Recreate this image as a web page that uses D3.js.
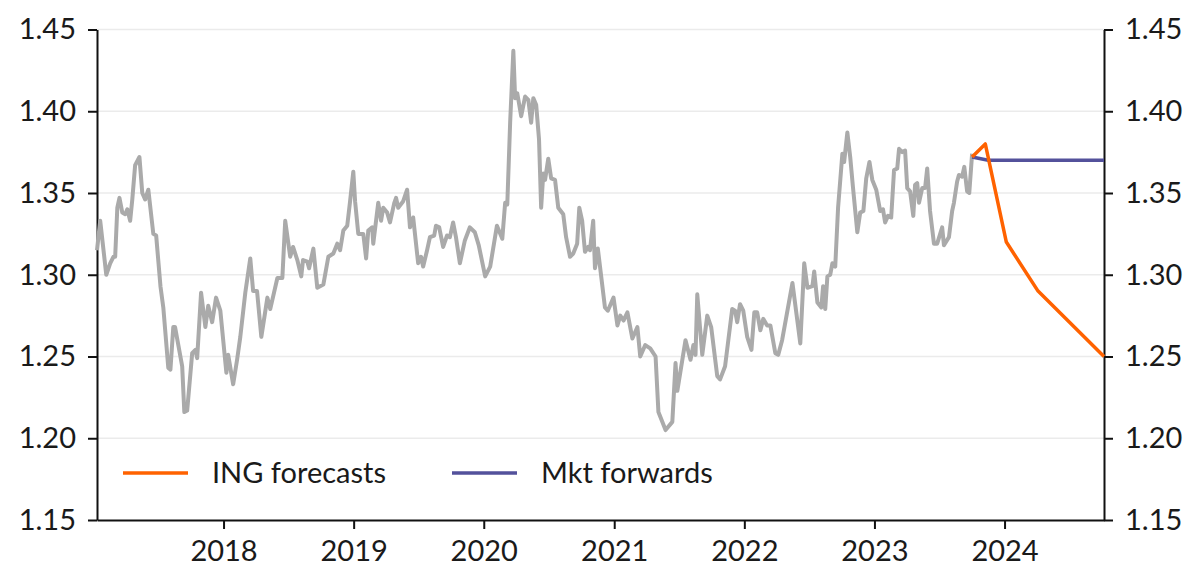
<!DOCTYPE html>
<html>
<head>
<meta charset="utf-8">
<script src="https://cdn.jsdelivr.net/npm/d3@7"></script>
<style>
    body { margin: 0; background: #fff; }
    text { font-family: Lato, "Open Sans", sans-serif; fill: #1a1a1a; }
</style>
</head>
<body>
<svg id="chart" width="1200" height="588" viewBox="0 0 1200 588"></svg>
<script>
// USD/CAD spot (weekly-ish readings)
const spot = [
    ["2017-01-11", 1.315], ["2017-01-20", 1.333], ["2017-02-06", 1.300], ["2017-02-17", 1.307],
    ["2017-02-26", 1.311], ["2017-03-03", 1.311], ["2017-03-09", 1.341], ["2017-03-15", 1.347],
    ["2017-03-23", 1.338], ["2017-03-31", 1.337], ["2017-04-06", 1.340], ["2017-04-14", 1.333],
    ["2017-04-20", 1.346], ["2017-04-28", 1.367], ["2017-05-10", 1.372], ["2017-05-18", 1.350],
    ["2017-05-26", 1.346], ["2017-06-04", 1.352], ["2017-06-18", 1.325], ["2017-06-26", 1.324],
    ["2017-07-08", 1.293], ["2017-07-16", 1.280], ["2017-07-30", 1.243], ["2017-08-05", 1.242],
    ["2017-08-13", 1.268], ["2017-08-18", 1.268], ["2017-09-07", 1.244], ["2017-09-13", 1.216],
    ["2017-09-21", 1.217], ["2017-10-05", 1.252], ["2017-10-14", 1.254], ["2017-10-19", 1.249],
    ["2017-10-30", 1.289], ["2017-11-11", 1.268], ["2017-11-19", 1.281], ["2017-11-30", 1.271],
    ["2017-12-11", 1.286], ["2017-12-23", 1.278],
    ["2018-01-09", 1.240], ["2018-01-14", 1.251], ["2018-01-28", 1.233], ["2018-02-08", 1.248],
    ["2018-02-17", 1.262], ["2018-03-03", 1.289], ["2018-03-17", 1.310], ["2018-03-25", 1.290],
    ["2018-04-05", 1.290], ["2018-04-17", 1.262], ["2018-05-04", 1.286], ["2018-05-12", 1.279],
    ["2018-06-01", 1.298], ["2018-06-15", 1.298], ["2018-06-23", 1.333], ["2018-07-07", 1.311],
    ["2018-07-15", 1.317], ["2018-07-27", 1.309], ["2018-08-07", 1.299], ["2018-08-12", 1.309],
    ["2018-08-24", 1.308], ["2018-08-29", 1.304], ["2018-09-10", 1.316], ["2018-09-21", 1.292],
    ["2018-10-08", 1.294], ["2018-10-22", 1.311], ["2018-11-05", 1.313], ["2018-11-16", 1.319],
    ["2018-11-24", 1.315], ["2018-12-03", 1.327], ["2018-12-14", 1.330], ["2018-12-22", 1.345],
    ["2018-12-31", 1.363],
    ["2019-01-05", 1.345], ["2019-01-14", 1.325], ["2019-01-28", 1.325], ["2019-02-05", 1.310],
    ["2019-02-11", 1.327], ["2019-02-22", 1.329], ["2019-02-25", 1.319], ["2019-03-11", 1.344],
    ["2019-03-19", 1.333], ["2019-03-25", 1.341], ["2019-04-05", 1.338], ["2019-04-13", 1.332],
    ["2019-04-25", 1.344], ["2019-04-30", 1.347], ["2019-05-06", 1.341], ["2019-05-20", 1.345],
    ["2019-05-31", 1.352], ["2019-06-08", 1.329], ["2019-06-17", 1.335], ["2019-07-01", 1.307],
    ["2019-07-09", 1.311], ["2019-07-15", 1.305], ["2019-07-26", 1.315], ["2019-08-03", 1.323],
    ["2019-08-15", 1.324], ["2019-08-20", 1.330], ["2019-08-29", 1.329], ["2019-09-09", 1.317],
    ["2019-09-20", 1.324], ["2019-09-28", 1.323], ["2019-10-07", 1.332], ["2019-10-15", 1.323],
    ["2019-10-26", 1.307], ["2019-11-09", 1.321], ["2019-11-23", 1.329], ["2019-12-07", 1.326],
    ["2019-12-18", 1.318],
    ["2020-01-05", 1.299], ["2020-01-19", 1.305], ["2020-02-07", 1.330], ["2020-02-22", 1.322],
    ["2020-03-01", 1.344], ["2020-03-07", 1.343], ["2020-03-15", 1.393], ["2020-03-24", 1.437],
    ["2020-03-29", 1.408], ["2020-04-04", 1.411], ["2020-04-15", 1.397], ["2020-04-26", 1.409],
    ["2020-05-05", 1.407], ["2020-05-13", 1.393], ["2020-05-19", 1.408], ["2020-05-27", 1.404],
    ["2020-06-04", 1.383], ["2020-06-10", 1.341], ["2020-06-16", 1.362], ["2020-06-21", 1.358],
    ["2020-06-30", 1.371], ["2020-07-08", 1.359], ["2020-07-19", 1.358], ["2020-07-28", 1.341],
    ["2020-08-11", 1.337], ["2020-08-19", 1.323], ["2020-08-30", 1.311], ["2020-09-08", 1.313],
    ["2020-09-19", 1.319], ["2020-09-25", 1.341], ["2020-10-03", 1.333], ["2020-10-11", 1.314],
    ["2020-10-20", 1.317], ["2020-10-25", 1.315], ["2020-11-03", 1.333], ["2020-11-08", 1.304],
    ["2020-11-16", 1.316], ["2020-12-06", 1.280], ["2020-12-14", 1.278], ["2020-12-30", 1.286],
    ["2021-01-10", 1.269], ["2021-01-18", 1.275], ["2021-01-27", 1.272], ["2021-02-07", 1.277],
    ["2021-02-21", 1.261], ["2021-03-07", 1.268], ["2021-03-15", 1.250], ["2021-03-29", 1.257],
    ["2021-04-12", 1.255], ["2021-04-27", 1.250], ["2021-05-05", 1.216], ["2021-05-25", 1.205],
    ["2021-06-13", 1.210], ["2021-06-22", 1.246], ["2021-06-27", 1.229], ["2021-07-20", 1.260],
    ["2021-08-03", 1.248], ["2021-08-11", 1.257], ["2021-08-17", 1.251], ["2021-08-22", 1.288],
    ["2021-09-05", 1.251], ["2021-09-19", 1.275], ["2021-09-30", 1.268], ["2021-10-17", 1.238],
    ["2021-10-25", 1.236], ["2021-11-08", 1.244], ["2021-11-28", 1.279], ["2021-12-06", 1.278],
    ["2021-12-12", 1.271], ["2021-12-20", 1.282], ["2021-12-29", 1.278],
    ["2022-01-09", 1.262], ["2022-01-21", 1.254], ["2022-01-29", 1.277], ["2022-02-06", 1.277],
    ["2022-02-15", 1.266], ["2022-02-23", 1.273], ["2022-03-06", 1.269], ["2022-03-15", 1.269],
    ["2022-03-29", 1.252], ["2022-04-06", 1.251], ["2022-04-17", 1.260], ["2022-05-16", 1.295],
    ["2022-06-07", 1.258], ["2022-06-18", 1.307], ["2022-06-27", 1.292], ["2022-07-11", 1.293],
    ["2022-07-16", 1.302], ["2022-07-25", 1.283], ["2022-08-05", 1.280], ["2022-08-10", 1.293],
    ["2022-08-16", 1.279], ["2022-08-22", 1.299], ["2022-08-30", 1.300], ["2022-09-05", 1.307],
    ["2022-09-13", 1.305], ["2022-09-21", 1.341], ["2022-10-03", 1.374], ["2022-10-08", 1.369],
    ["2022-10-17", 1.387], ["2022-10-25", 1.372], ["2022-11-02", 1.353], ["2022-11-14", 1.326],
    ["2022-11-22", 1.338], ["2022-12-01", 1.339], ["2022-12-09", 1.359], ["2022-12-18", 1.369],
    ["2022-12-26", 1.358],
    ["2023-01-06", 1.352], ["2023-01-17", 1.339], ["2023-01-25", 1.340], ["2023-01-31", 1.332],
    ["2023-02-08", 1.336], ["2023-02-17", 1.335], ["2023-02-25", 1.364], ["2023-03-06", 1.365],
    ["2023-03-11", 1.377], ["2023-03-20", 1.375], ["2023-03-28", 1.376], ["2023-04-03", 1.353],
    ["2023-04-11", 1.351], ["2023-04-20", 1.336], ["2023-04-25", 1.355], ["2023-05-01", 1.356],
    ["2023-05-06", 1.344], ["2023-05-15", 1.353], ["2023-05-23", 1.353], ["2023-05-29", 1.365],
    ["2023-06-06", 1.339], ["2023-06-17", 1.319], ["2023-06-26", 1.319], ["2023-07-10", 1.329],
    ["2023-07-15", 1.318], ["2023-07-29", 1.323], ["2023-08-07", 1.339], ["2023-08-12", 1.344],
    ["2023-08-21", 1.357], ["2023-08-26", 1.361], ["2023-09-04", 1.360], ["2023-09-10", 1.366],
    ["2023-09-18", 1.351], ["2023-09-24", 1.350], ["2023-10-02", 1.374]
];

const ingForecast = [
    ["2023-10-02", 1.372], ["2023-11-08", 1.380], ["2024-01-06", 1.320],
    ["2024-04-04", 1.290], ["2024-10-06", 1.250]
];

const mktForwards = [
    ["2023-10-02", 1.372], ["2023-11-16", 1.370], ["2024-10-06", 1.370]
];

const yTicks = [1.15, 1.20, 1.25, 1.30, 1.35, 1.40, 1.45];
const xTicks = ["2018", "2019", "2020", "2021", "2022", "2023", "2024"];
const legendItems = [
    { name: "ING forecasts", color: "#ff6200" },
    { name: "Mkt forwards", color: "#53519b" }
];

const svg = d3.select("#chart");
const margin = { top: 29.5, right: 96, bottom: 68, left: 97 };
const width = 1200 - margin.left - margin.right;
const height = 588 - margin.top - margin.bottom;

const parse = d3.timeParse("%Y-%m-%d");

const x = d3.scaleTime()
    .domain([parse("2017-01-11"), parse("2024-10-06")])
    .range([0, width]);

const y = d3.scaleLinear()
    .domain([1.15, 1.45])
    .range([height, 0]);

const g = svg.append("g")
    .attr("transform", "translate(" + margin.left + "," + margin.top + ")");

// gridlines
g.selectAll(".grid")
    .data(yTicks.slice(1))
    .enter()
    .append("line")
    .attr("x1", 0)
    .attr("x2", width)
    .attr("y1", d => y(d))
    .attr("y2", d => y(d))
    .attr("stroke", "#ebebeb")
    .attr("stroke-width", 1.5);

// axes
function styleAxis(sel) {
    sel.select(".domain").attr("stroke", "#111").attr("stroke-width", 2);
    sel.selectAll(".tick line").attr("stroke", "#111").attr("stroke-width", 2);
    sel.selectAll(".tick text")
        .style("font-size", "29px")
        .attr("fill", "#1a1a1a");
}

g.append("g")
    .call(d3.axisLeft(y).tickValues(yTicks).tickFormat(d3.format(".2f")).tickSize(9).tickPadding(12).tickSizeOuter(0))
    .call(styleAxis);

g.append("g")
    .attr("transform", "translate(" + width + ",0)")
    .call(d3.axisRight(y).tickValues(yTicks).tickFormat(d3.format(".2f")).tickSize(9).tickPadding(12).tickSizeOuter(0))
    .call(styleAxis);

g.append("g")
    .attr("transform", "translate(0," + height + ")")
    .call(d3.axisBottom(x).tickValues(xTicks.map(d => parse(d + "-01-01"))).tickFormat(d3.timeFormat("%Y")).tickSize(9).tickPadding(11).tickSizeOuter(0))
    .call(styleAxis);

// lines
const line = d3.line()
    .x(d => x(parse(d[0])))
    .y(d => y(d[1]));

g.append("path")
    .datum(spot)
    .attr("d", line)
    .attr("fill", "none")
    .attr("stroke", "#aaaaaa")
    .attr("stroke-width", 4)
    .attr("stroke-linejoin", "round");

g.append("path")
    .datum(mktForwards)
    .attr("d", line)
    .attr("fill", "none")
    .attr("stroke", legendItems[1].color)
    .attr("stroke-width", 3.5);

g.append("path")
    .datum(ingForecast)
    .attr("d", line)
    .attr("fill", "none")
    .attr("stroke", legendItems[0].color)
    .attr("stroke-width", 3.5)
    .attr("stroke-linejoin", "round");

// legend
const legend = svg.append("g")
    .attr("transform", "translate(123,473)");

const item = legend.selectAll(".legend-item")
    .data(legendItems)
    .enter()
    .append("g")
    .attr("transform", (d, i) => "translate(" + (i * 329) + ",0)");

item.append("line")
    .attr("x1", 0)
    .attr("x2", 65)
    .attr("stroke", d => d.color)
    .attr("stroke-width", 3.5);

item.append("text")
    .attr("x", 89)
    .attr("dy", "0.35em")
    .style("font-size", "29px")
    .text(d => d.name);
</script>
</body>
</html>
